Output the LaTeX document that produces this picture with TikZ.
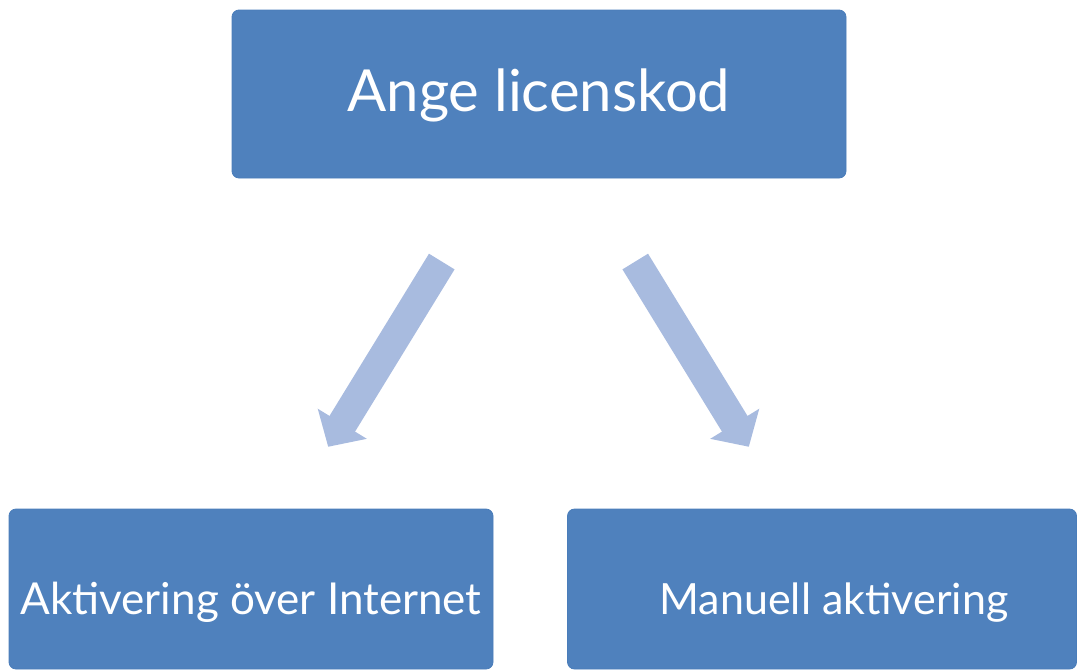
\documentclass[tikz,border=0pt]{standalone}
\usepackage{fontspec}
\setmainfont{Lato}
\usetikzlibrary{arrows.meta}
\definecolor{boxblue}{HTML}{4F81BD}
\definecolor{boxedge}{HTML}{4A7DBA}
\definecolor{arrowblue}{HTML}{A8BBDF}
\begin{document}
\begin{tikzpicture}[x=1pt,y=-1pt,
  box/.style={draw=boxedge, line width=0.8pt, fill=boxblue, rounded corners=7pt, inner sep=0pt, text=white, text depth=0pt},
  flow/.style={draw=arrowblue, line width=30pt, -{Triangle[width=56pt,length=27pt]}}]
\useasboundingbox (0,0) rectangle (1078,670);
\node[box, minimum width=614pt, minimum height=168pt, text height=34pt, font=\fontsize{58}{64}\selectfont] (top) at (539,94) {Ange licenskod};
\node[box, minimum width=484pt, minimum height=160pt, text height=50pt, font=\fontsize{44}{50}\selectfont] (left) at (251,589) {Aktivering över Internet};
\node[box, minimum width=509pt, minimum height=160pt, text height=50pt, font=\fontsize{43}{49}\selectfont] (right) at (822,589) {\hspace*{24pt}Manuell aktivering};
\coordinate (tl) at (493,178);
\coordinate (tr) at (584,178);
\coordinate (ln) at (290,509);
\coordinate (rn) at (787,509);
\draw[flow, shorten <=98pt, shorten >=73pt] (tl) -- (ln);
\draw[flow, shorten <=98pt, shorten >=73pt] (tr) -- (rn);
\end{tikzpicture}
\end{document}
